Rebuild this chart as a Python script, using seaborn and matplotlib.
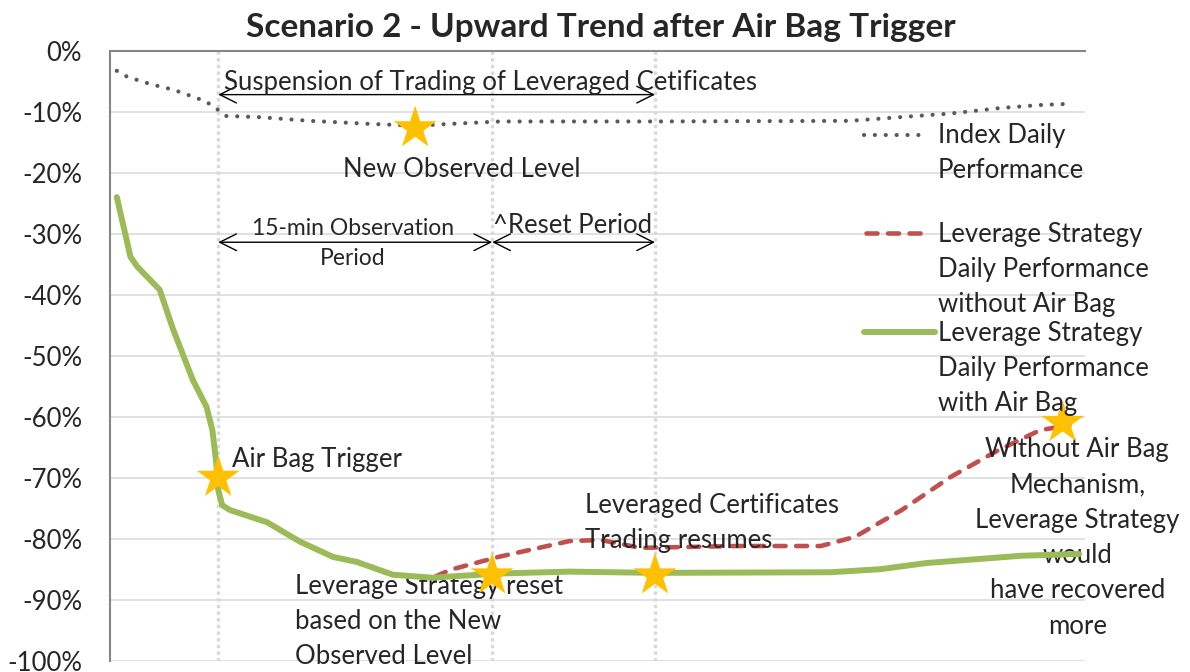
import numpy as np
import pandas as pd
import matplotlib
matplotlib.use("Agg")
import matplotlib.pyplot as plt
from matplotlib.lines import Line2D
import seaborn as sns

#%% values (x = time steps across the session, 0-100)
index_x = [0.7, 1.8, 4.2, 6.5, 8.8, 9.9, 11.0, 11.9, 15.4, 20.5, 26.7, 31.3, 34.9, 40.0, 55.4, 75.9, 81.0, 86.2, 91.3, 95.4, 98.6]
index_y = [-3.3, -4.3, -5.5, -6.4, -7.7, -8.4, -9.6, -10.7, -10.9, -11.5, -12.0, -12.3, -12.0, -11.6, -11.6, -11.5, -10.9, -10.3, -9.4, -8.9, -8.7]

airbag_x = [0.7, 2.1, 2.8, 5.1, 6.5, 8.5, 9.9, 10.5, 10.9, 11.1, 11.5, 12.3, 16.1, 19.5, 22.9, 25.3, 29.0, 33.1,
            34.9, 40.0, 47.1, 55.9, 73.9, 79.0, 83.7, 93.4, 99.4]
airbag_y = [-24.0, -33.8, -35.4, -39.2, -45.8, -54.0, -58.4, -62.2, -67.6, -72.0, -74.5, -75.3, -77.3, -80.5, -83.0, -83.8, -85.9, -86.4,
            -86.2, -85.7, -85.4, -85.6, -85.5, -85.0, -84.0, -82.8, -82.5]

no_airbag_x = airbag_x[:18] + [34.9, 39.8, 47.1, 50.3, 54.4, 64.2, 72.9, 76.4, 81.2, 86.2, 91.1, 95.4, 98.4]
no_airbag_y = airbag_y[:18] + [-85.1, -83.0, -80.4, -80.2, -81.5, -81.2, -81.2, -79.7, -75.3, -69.9, -65.5, -62.2, -61.4]

star_x = [11.1, 31.3, 39.2, 55.9, 97.7]
star_y = [-70.0, -12.7, -86.0, -86.0, -61.0]

events = [11.1, 39.2, 55.9]   # trigger, reset, trading resumes

yticks = list(range(-100, 1, 10))

C_INDEX = '#595959'
C_RED = '#C0504D'
C_GREEN = '#9BBB59'
C_STAR = '#FFC000'

#%% style
sns.set_style('white')
plt.rcParams['font.family'] = ['Lato', 'DejaVu Sans']
FS = 18.5
FS_SMALL = 16.5

fig = plt.figure(figsize=(11.9, 6.72), dpi=100)
ax = fig.add_axes([110 / 1190, 1 - 660.7 / 672, 975 / 1190, 610 / 672])

# gridlines + event lines
for v in yticks[:-1]:
    ax.axhline(v, color='#D9D9D9', lw=1.1, zorder=0)
for e in events:
    ax.axvline(e, color='#D9D9D9', lw=2.4, linestyle=(0, (1, 1)), zorder=0.5)

# series
sns.lineplot(x=index_x, y=index_y, ax=ax, color=C_INDEX, lw=3, sort=False,
             linestyle=(0, (0.01, 2.6)), dash_capstyle='round', zorder=2)
sns.lineplot(x=no_airbag_x, y=no_airbag_y, ax=ax, color=C_RED, lw=3.3, sort=False,
             linestyle=(0, (2.4, 2.3)), dash_capstyle='round', zorder=3)
sns.lineplot(x=airbag_x, y=airbag_y, ax=ax, color=C_GREEN, lw=4.3, sort=False,
             solid_capstyle='round', zorder=4)
sns.scatterplot(x=star_x, y=star_y, ax=ax, marker='*', s=1050, color=C_STAR,
                edgecolor='none', zorder=5)

ax.set_xlim(0, 100)
ax.set_ylim(-100, 0)
ax.set_yticks(yticks)
ax.set_yticklabels([f'{v}%' for v in yticks], fontsize=FS)
ax.set_xticks([])
ax.tick_params(axis='y', direction='out', length=7, width=1.3, color='#868686', pad=13)
for s in ['right', 'bottom']:
    ax.spines[s].set_visible(False)
for s in ['left', 'top']:
    ax.spines[s].set_color('#868686')
    ax.spines[s].set_linewidth(1.5)

# title
fig.text(0.505, 1 - 28 / 672, 'Scenario 2 - Upward Trend after Air Bag Trigger',
         ha='center', va='center', fontsize=24, fontweight='bold')

# arrows
arrow = dict(arrowstyle='<->,head_length=0.8,head_width=0.4', lw=1, color='black',
             shrinkA=0, shrinkB=0, mutation_scale=15)
ax.annotate('', xy=(events[0], -7.2), xytext=(events[2], -7.2), arrowprops=arrow)
ax.annotate('', xy=(events[0], -31.4), xytext=(events[1], -31.4), arrowprops=arrow)
ax.annotate('', xy=(events[1], -31.4), xytext=(events[2], -31.4), arrowprops=arrow)

# annotations
ax.text(11.7, -6.4, 'Suspension of Trading of Leveraged Cetificates', fontsize=FS, va='baseline')
ax.text(36.1, -20.7, 'New Observed Level', fontsize=FS, ha='center', va='baseline')
ax.text(24.9, -30.2, '15-min Observation', fontsize=FS_SMALL, ha='center', va='baseline')
ax.text(24.9, -35.1, 'Period', fontsize=FS_SMALL, ha='center', va='baseline')
ax.text(39.3, -29.9, '^Reset Period', fontsize=FS, va='baseline')
ax.text(12.5, -68.3, 'Air Bag Trigger', fontsize=FS, va='baseline')

def lines(x, y0, txt, ha='left', step=5.8):
    for i, t in enumerate(txt):
        ax.text(x, y0 - i * step, t, fontsize=FS, ha=ha, va='baseline', clip_on=False)

lines(19.0, -89.0, ['Leverage Strategy reset', 'based on the New', 'Observed Level'])
lines(48.7, -75.8, ['Leveraged Certificates', 'Trading resumes'])
lines(99.2, -66.6, ['Without Air Bag', 'Mechanism,', 'Leverage Strategy', 'would',
                    'have recovered', 'more'], ha='center')

# legend drawn by hand so the key sits on the first text line
def fx(px):
    return px / 1190
def fy(py):
    return 1 - py / 672

leg = [
    (Line2D([fx(864), fx(926)], [fy(135)] * 2, color=C_INDEX, lw=3, linestyle=(0, (0.01, 2.6)),
            dash_capstyle='round'), ['Index Daily', 'Performance'], 143),
    (Line2D([fx(866), fx(928)], [fy(233)] * 2, color=C_RED, lw=3.3, linestyle=(0, (2.4, 2.3)),
            dash_capstyle='round'), ['Leverage Strategy', 'Daily Performance', 'without Air Bag'], 242),
    (Line2D([fx(864), fx(935)], [fy(332)] * 2, color=C_GREEN, lw=4.3),
     ['Leverage Strategy', 'Daily Performance', 'with Air Bag'], 341),
]
for ln, txt, base in leg:
    fig.add_artist(ln)
    for i, t in enumerate(txt):
        fig.text(fx(938), fy(base + i * 35), t, fontsize=FS, va='baseline')

plt.savefig('out.png', dpi=100)
